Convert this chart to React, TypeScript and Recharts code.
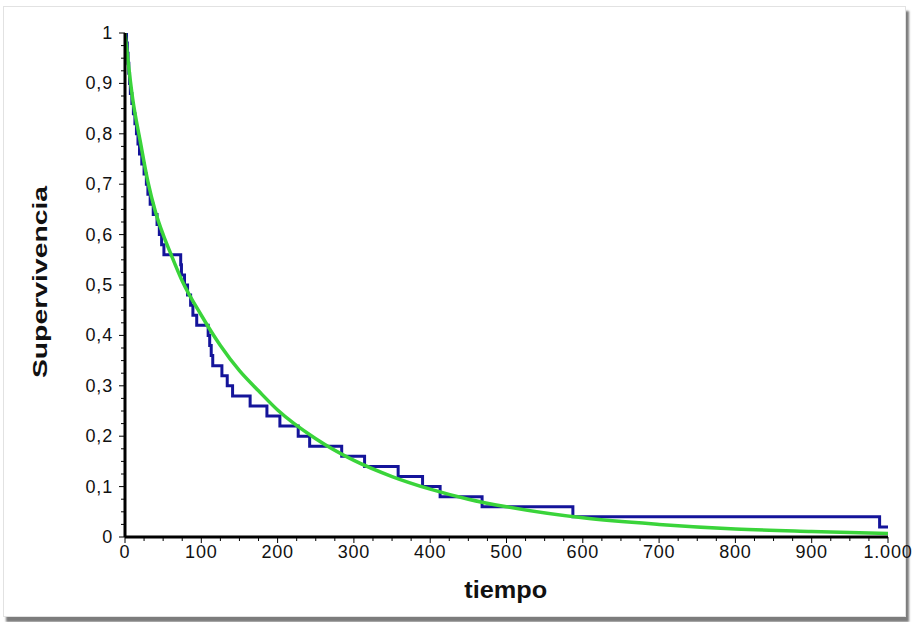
import { LineChart, Line, XAxis, YAxis } from 'recharts';

// Kaplan-Meier (escalones): tiempo en que empieza cada nivel, y su supervivencia
const kmTimes = [
  0, 2, 3, 4, 5, 6, 7, 9, 11, 13, 15, 17, 19, 22, 25, 28, 30, 33, 37, 42, 45, 48, 51,
  73, 74, 78, 82, 86, 89, 94, 109, 111, 113, 115, 127, 134, 141, 164, 186, 203, 227,
  242, 284, 314, 358, 390, 413, 468, 587, 989, 1000,
];
const kmSurv = [
  1, 0.98, 0.96, 0.94, 0.92, 0.9, 0.88, 0.86, 0.84, 0.82, 0.8, 0.78, 0.76, 0.74, 0.72,
  0.7, 0.68, 0.66, 0.64, 0.62, 0.6, 0.58, 0.56, 0.54, 0.52, 0.5, 0.48, 0.46, 0.44, 0.42,
  0.4, 0.38, 0.36, 0.34, 0.32, 0.3, 0.28, 0.26, 0.24, 0.22, 0.2, 0.18, 0.16, 0.14, 0.12,
  0.1, 0.08, 0.06, 0.04, 0.02, 0.02,
];

// curva ajustada (verde)
const fitTimes = [0, 10, 20, 30, 40, 50, 60, 75, 100, 125, 150, 175, 200, 250, 300, 350, 400, 450, 500, 600, 700, 800, 900, 1000];
const fitSurv = [1, 0.87, 0.785, 0.705, 0.645, 0.6, 0.562, 0.508, 0.44, 0.38, 0.33, 0.29, 0.252, 0.195, 0.152, 0.12, 0.095, 0.075, 0.06, 0.038, 0.025, 0.016, 0.011, 0.007];

const xMajor = [0, 100, 200, 300, 400, 500, 600, 700, 800, 900, 1000];
const yMajor = [0, 0.1, 0.2, 0.3, 0.4, 0.5, 0.6, 0.7, 0.8, 0.9, 1];

const xTicks = Array.from({ length: 41 }, (_, i) => i * 25);
const yTicks = Array.from({ length: 41 }, (_, i) => Math.round(i * 25) / 1000);

const kmData = kmTimes.map((t, i) => ({ t, s: kmSurv[i] }));
const fitData = fitTimes.map((t, i) => ({ t, s: fitSurv[i] }));

const FONT = '"Liberation Sans", Arial, sans-serif';

const fmtX = (v: number) => (v === 1000 ? '1.000' : String(v));
const fmtY = (v: number) => (v === 0 || v === 1 ? String(v) : v.toFixed(1).replace('.', ','));

const XTick = (props: any) => {
  const { x, y, payload } = props;
  const v = payload.value as number;
  const major = xMajor.includes(v);
  return (
    <g>
      <line x1={x} x2={x} y1={y} y2={y + (major ? 6 : 4)} stroke="#000" strokeWidth={1} />
      {major && (
        <text x={x} y={y + 21} textAnchor="middle" fontSize={18} letterSpacing={0.8} fontFamily={FONT} fill="#111">
          {fmtX(v)}
        </text>
      )}
    </g>
  );
};

const YTick = (props: any) => {
  const { x, y, payload } = props;
  const v = payload.value as number;
  const major = yMajor.some((m) => Math.abs(m - v) < 1e-6);
  return (
    <g>
      <line x1={x} x2={x - (major ? 6 : 4)} y1={y} y2={y} stroke="#000" strokeWidth={1} />
      {major && (
        <text x={x - 12} y={y + 6} textAnchor="end" fontSize={18} letterSpacing={0.8} fontFamily={FONT} fill="#111">
          {fmtY(v)}
        </text>
      )}
    </g>
  );
};

export default function App() {
  return (
    <div style={{ position: 'absolute', left: 0, top: 0, width: 917, height: 622, background: '#fff', overflow: 'hidden' }}>
      {/* marco con sombra */}
      <div
        style={{
          position: 'absolute',
          left: 3,
          top: 6,
          width: 901,
          height: 609,
          border: '1px solid #e2e2e2',
          boxShadow: '3px 5px 2px #7c7c7c',
          background: '#fff',
        }}
      />
      <div style={{ position: 'absolute', left: 0, top: 0 }}>
        <LineChart width={917} height={622} margin={{ top: 33, right: 29, left: 0, bottom: 0 }}>
          <XAxis
            xAxisId="main"
            dataKey="t"
            type="number"
            domain={[0, 1000]}
            ticks={xTicks}
            interval={0}
            tick={<XTick />}
            tickLine={false}
            tickSize={0}
            tickMargin={0}
            height={85}
            axisLine={{ stroke: '#000', strokeWidth: 3 }}
            allowDataOverflow
          />
          <XAxis
            xAxisId="top"
            orientation="top"
            type="number"
            domain={[0, 1000]}
            height={0}
            tick={false}
            tickLine={false}
            axisLine={{ stroke: '#000', strokeWidth: 2 }}
          />
          <YAxis
            yAxisId="main"
            type="number"
            domain={[0, 1]}
            ticks={yTicks}
            interval={0}
            tick={<YTick />}
            tickLine={false}
            tickSize={0}
            tickMargin={0}
            width={125}
            axisLine={{ stroke: '#000', strokeWidth: 3 }}
            allowDataOverflow
          />
          <YAxis
            yAxisId="right"
            orientation="right"
            type="number"
            domain={[0, 1]}
            width={0}
            tick={false}
            tickLine={false}
            axisLine={{ stroke: '#000', strokeWidth: 2 }}
          />
          <Line
            xAxisId="main"
            yAxisId="main"
            data={kmData}
            dataKey="s"
            type="stepAfter"
            stroke="#14149a"
            strokeWidth={3}
            dot={false}
            isAnimationActive={false}
          />
          <Line
            xAxisId="main"
            yAxisId="main"
            data={fitData}
            dataKey="s"
            type="monotone"
            stroke="#3ad43a"
            strokeWidth={3.5}
            dot={false}
            isAnimationActive={false}
          />
        </LineChart>
      </div>
      <div
        style={{
          position: 'absolute',
          left: 0,
          width: 1012,
          top: 577,
          textAlign: 'center',
          fontFamily: FONT,
          fontWeight: 'bold',
          fontSize: 23,
          color: '#111',
          lineHeight: '26px',
        }}
      >
        <span style={{ display: 'inline-block', transform: 'scaleX(1.1)' }}>tiempo</span>
      </div>
      <div
        style={{
          position: 'absolute',
          left: 40,
          top: 282,
          transform: 'translate(-50%, -50%) rotate(-90deg) scaleX(1.35)',
          fontFamily: FONT,
          fontWeight: 'bold',
          fontSize: 21,
          color: '#111',
          whiteSpace: 'nowrap',
          lineHeight: '22px',
        }}
      >
        Supervivencia
      </div>
    </div>
  );
}
